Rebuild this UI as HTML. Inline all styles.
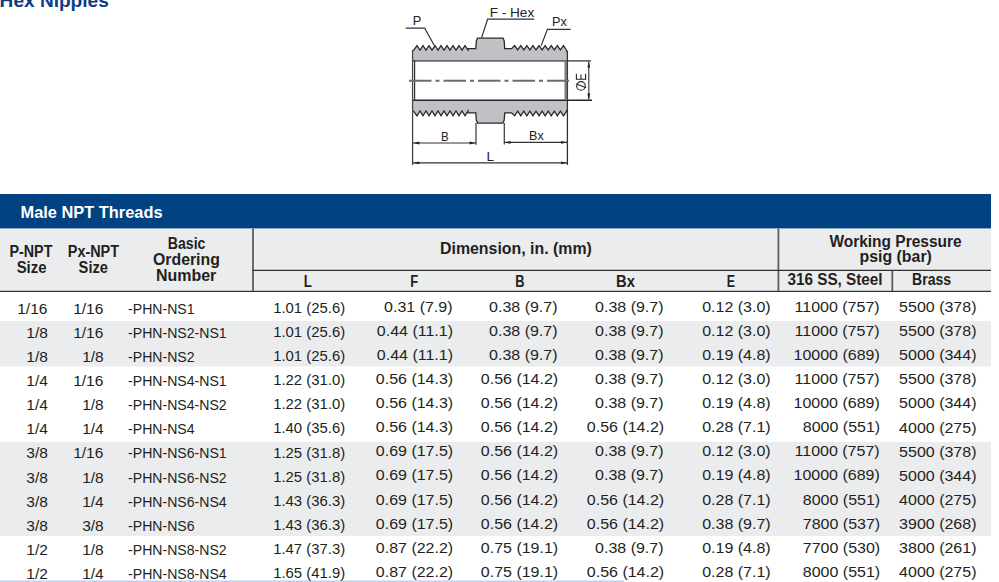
<!DOCTYPE html>
<html><head><meta charset="utf-8"><title>Hex Nipples</title>
<style>
html,body{margin:0;padding:0;background:#fff;width:999px;height:582px;overflow:hidden}
svg{display:block;font-family:"Liberation Sans",sans-serif}
</style></head><body>
<svg width="999" height="582" viewBox="0 0 999 582">
<text x="-0.40" y="7.0" font-size="19" font-weight="700" fill="#0b3c85" textLength="109.17" lengthAdjust="spacingAndGlyphs">Hex Nipples</text>
<path d="M413.20,61.00 L413.20,50.80 L417.00,45.60 L420.00,50.00 L423.00,45.60 L426.00,50.00 L429.00,45.60 L432.00,50.00 L435.00,45.60 L438.00,50.00 L441.00,45.60 L444.00,50.00 L447.00,45.60 L450.00,50.00 L453.00,45.60 L456.00,50.00 L459.00,45.60 L462.00,50.00 L465.00,45.60 L468.00,50.00 L468.20,48.70 L475.80,48.70 L476.30,41.00 L477.60,38.20 L503.00,38.20 L504.20,41.00 L504.70,48.60 L511.60,48.60 L514.65,45.60 L517.70,49.80 L520.75,45.60 L523.80,49.80 L526.85,45.60 L529.90,49.80 L532.95,45.60 L536.00,49.80 L539.05,45.60 L542.10,49.80 L545.15,45.60 L548.20,49.80 L551.25,45.60 L554.30,49.80 L557.35,45.60 L560.40,49.80 L563.45,45.60 L566.60,50.20 L567.20,52.00 L567.20,61.00 Z" fill="#c1c1c5" stroke="none" stroke-width="1"/>
<path d="M413.20,50.80 L417.00,45.60 L420.00,50.00 L423.00,45.60 L426.00,50.00 L429.00,45.60 L432.00,50.00 L435.00,45.60 L438.00,50.00 L441.00,45.60 L444.00,50.00 L447.00,45.60 L450.00,50.00 L453.00,45.60 L456.00,50.00 L459.00,45.60 L462.00,50.00 L465.00,45.60 L468.00,50.00 L468.20,48.70 L475.80,48.70 L476.30,41.00 L477.60,38.20 L503.00,38.20 L504.20,41.00 L504.70,48.60 L511.60,48.60 L514.65,45.60 L517.70,49.80 L520.75,45.60 L523.80,49.80 L526.85,45.60 L529.90,49.80 L532.95,45.60 L536.00,49.80 L539.05,45.60 L542.10,49.80 L545.15,45.60 L548.20,49.80 L551.25,45.60 L554.30,49.80 L557.35,45.60 L560.40,49.80 L563.45,45.60 L566.60,50.20 L567.20,52.00" fill="none" stroke="#2a2a2a" stroke-width="1.3" stroke-linejoin="miter"/>
<path d="M413.20,100.20 L413.20,110.60 L417.00,115.80 L420.00,111.00 L423.00,115.80 L426.00,111.00 L429.00,115.80 L432.00,111.00 L435.00,115.80 L438.00,111.00 L441.00,115.80 L444.00,111.00 L447.00,115.80 L450.00,111.00 L453.00,115.80 L456.00,111.00 L459.00,115.80 L462.00,111.00 L465.00,115.80 L468.00,111.00 L468.00,112.90 L475.80,112.90 L476.30,120.00 L477.60,123.10 L503.00,123.10 L504.20,120.00 L504.70,112.90 L511.60,112.90 L514.65,115.80 L517.70,111.20 L520.75,115.80 L523.80,111.20 L526.85,115.80 L529.90,111.20 L532.95,115.80 L536.00,111.20 L539.05,115.80 L542.10,111.20 L545.15,115.80 L548.20,111.20 L551.25,115.80 L554.30,111.20 L557.35,115.80 L560.40,111.20 L563.45,115.80 L566.60,111.20 L567.20,109.50 L567.20,100.20 Z" fill="#c1c1c5" stroke="none" stroke-width="1"/>
<path d="M413.20,110.60 L417.00,115.80 L420.00,111.00 L423.00,115.80 L426.00,111.00 L429.00,115.80 L432.00,111.00 L435.00,115.80 L438.00,111.00 L441.00,115.80 L444.00,111.00 L447.00,115.80 L450.00,111.00 L453.00,115.80 L456.00,111.00 L459.00,115.80 L462.00,111.00 L465.00,115.80 L468.00,111.00 L468.00,112.90 L475.80,112.90 L476.30,120.00 L477.60,123.10 L503.00,123.10 L504.20,120.00 L504.70,112.90 L511.60,112.90 L514.65,115.80 L517.70,111.20 L520.75,115.80 L523.80,111.20 L526.85,115.80 L529.90,111.20 L532.95,115.80 L536.00,111.20 L539.05,115.80 L542.10,111.20 L545.15,115.80 L548.20,111.20 L551.25,115.80 L554.30,111.20 L557.35,115.80 L560.40,111.20 L563.45,115.80 L566.60,111.20 L567.20,109.50" fill="none" stroke="#2a2a2a" stroke-width="1.3"/>
<line x1="413" y1="60.8" x2="591" y2="60.8" stroke="#6a6a6a" stroke-width="1.8"/>
<line x1="413" y1="100.3" x2="592" y2="100.3" stroke="#262626" stroke-width="1.5"/>
<line x1="412.6" y1="50" x2="412.6" y2="165" stroke="#444" stroke-width="1.3"/>
<line x1="414.6" y1="60" x2="414.6" y2="101" stroke="#333" stroke-width="1.2"/>
<line x1="567.4" y1="51" x2="567.4" y2="165" stroke="#333" stroke-width="1.3"/>
<line x1="565.8" y1="61" x2="565.8" y2="100" stroke="#7a7a7a" stroke-width="2.6"/>
<path d="M409,80.8 H569" fill="none" stroke="#6e6e6e" stroke-width="1.9" stroke-dasharray="22.5 4 4 4"/>
<line x1="588.8" y1="61.5" x2="588.8" y2="99.5" stroke="#333" stroke-width="1.1"/>
<path d="M588.8,61.6 L587.4,67.6 L590.1999999999999,67.6 Z" fill="#222" stroke="none" stroke-width="1"/>
<path d="M588.8,99.4 L587.4,93.4 L590.1999999999999,93.4 Z" fill="#222" stroke="none" stroke-width="1"/>
<circle cx="581" cy="85.9" r="4.3" fill="none" stroke="#222" stroke-width="1.1"/>
<line x1="576.3" y1="84.0" x2="586.2" y2="87.8" stroke="#222" stroke-width="1.1"/>
<path d="M576.4,73.8 V79.2 H585.6 V73.8 M581,79.2 V74.4" fill="none" stroke="#222" stroke-width="1.1"/>
<line x1="476.0" y1="123" x2="476.0" y2="144.8" stroke="#444" stroke-width="1.3"/>
<line x1="413" y1="143.0" x2="476.0" y2="143.0" stroke="#333" stroke-width="1.2"/>
<path d="M413.3,143.0 L419.3,141.6 L419.3,144.4 Z" fill="#222" stroke="none" stroke-width="1"/>
<path d="M475.6,143.0 L469.6,141.6 L469.6,144.4 Z" fill="#222" stroke="none" stroke-width="1"/>
<line x1="504.3" y1="123" x2="504.3" y2="144.5" stroke="#444" stroke-width="1.3"/>
<line x1="504.3" y1="142.4" x2="567.3" y2="142.4" stroke="#333" stroke-width="1.2"/>
<path d="M504.6,142.4 L510.6,141.0 L510.6,143.8 Z" fill="#222" stroke="none" stroke-width="1"/>
<path d="M567.0,142.4 L561.0,141.0 L561.0,143.8 Z" fill="#222" stroke="none" stroke-width="1"/>
<line x1="413" y1="162.9" x2="567.3" y2="162.9" stroke="#333" stroke-width="1.2"/>
<path d="M413.3,162.9 L419.3,161.5 L419.3,164.3 Z" fill="#222" stroke="none" stroke-width="1"/>
<path d="M567.0,162.9 L561.0,161.5 L561.0,164.3 Z" fill="#222" stroke="none" stroke-width="1"/>
<text x="441.11" y="140.6" font-size="13" fill="#222" textLength="7.68" lengthAdjust="spacingAndGlyphs">B</text>
<text x="529.04" y="139.5" font-size="13" fill="#222" textLength="14.63" lengthAdjust="spacingAndGlyphs">Bx</text>
<text x="486.57" y="161.3" font-size="13" fill="#222" textLength="7.48" lengthAdjust="spacingAndGlyphs">L</text>
<path d="M405.8,28.2 H424.7 L434.3,45.5" fill="none" stroke="#333" stroke-width="1.2"/>
<text x="412.71" y="25.4" font-size="13" fill="#222" textLength="8.55" lengthAdjust="spacingAndGlyphs">P</text>
<path d="M481.6,37.6 L487.6,19.2 H534.3" fill="none" stroke="#333" stroke-width="1.2"/>
<text x="489.65" y="16.8" font-size="13" fill="#222" textLength="44.60" lengthAdjust="spacingAndGlyphs">F - Hex</text>
<path d="M541.2,45.6 L547.4,29.3 H570.7" fill="none" stroke="#333" stroke-width="1.2"/>
<text x="551.92" y="26.1" font-size="13" fill="#222" textLength="14.85" lengthAdjust="spacingAndGlyphs">Px</text>
<rect x="0" y="194" width="991" height="34.8" fill="#014283"/>
<text x="20.54" y="217.8" font-size="17" font-weight="700" fill="#ffffff" textLength="142.03" lengthAdjust="spacingAndGlyphs">Male NPT Threads</text>
<rect x="0" y="228.5" width="991" height="62" fill="#ebecee"/>
<line x1="0" y1="291.3" x2="991" y2="291.3" stroke="#303030" stroke-width="1.3"/>
<line x1="253.0" y1="228.5" x2="253.0" y2="291" stroke="#5c5c5c" stroke-width="1.8"/>
<line x1="778.4" y1="228.5" x2="778.4" y2="291" stroke="#5c5c5c" stroke-width="1.8"/>
<line x1="892.3" y1="270.3" x2="892.3" y2="291" stroke="#5c5c5c" stroke-width="1.8"/>
<line x1="252.6" y1="270.3" x2="991" y2="270.3" stroke="#303030" stroke-width="1.2"/>
<text x="9.51" y="257.2" font-size="16" font-weight="700" fill="#231f20" textLength="42.89" lengthAdjust="spacingAndGlyphs">P-NPT</text>
<text x="16.67" y="273.4" font-size="16" font-weight="700" fill="#231f20" textLength="29.74" lengthAdjust="spacingAndGlyphs">Size</text>
<text x="67.80" y="257.2" font-size="16" font-weight="700" fill="#231f20" textLength="51.22" lengthAdjust="spacingAndGlyphs">Px-NPT</text>
<text x="78.58" y="273.4" font-size="16" font-weight="700" fill="#231f20" textLength="29.43" lengthAdjust="spacingAndGlyphs">Size</text>
<text x="167.82" y="249" font-size="16" font-weight="700" fill="#231f20" textLength="37.60" lengthAdjust="spacingAndGlyphs">Basic</text>
<text x="153.01" y="265.4" font-size="16" font-weight="700" fill="#231f20" textLength="66.85" lengthAdjust="spacingAndGlyphs">Ordering</text>
<text x="156.00" y="281.4" font-size="16" font-weight="700" fill="#231f20" textLength="60.25" lengthAdjust="spacingAndGlyphs">Number</text>
<text x="440.01" y="254" font-size="16" font-weight="700" fill="#231f20" textLength="151.89" lengthAdjust="spacingAndGlyphs">Dimension, in. (mm)</text>
<text x="829.40" y="247" font-size="16" font-weight="700" fill="#231f20" textLength="132.22" lengthAdjust="spacingAndGlyphs">Working Pressure</text>
<text x="859.51" y="262" font-size="16" font-weight="700" fill="#231f20" textLength="72.38" lengthAdjust="spacingAndGlyphs">psig (bar)</text>
<text x="303.67" y="287.2" font-size="16" font-weight="700" fill="#231f20" textLength="8.15" lengthAdjust="spacingAndGlyphs">L</text>
<text x="410.19" y="287.2" font-size="16" font-weight="700" fill="#231f20" textLength="7.95" lengthAdjust="spacingAndGlyphs">F</text>
<text x="515.20" y="287.2" font-size="16" font-weight="700" fill="#231f20" textLength="9.25" lengthAdjust="spacingAndGlyphs">B</text>
<text x="616.08" y="287.2" font-size="16" font-weight="700" fill="#231f20" textLength="18.84" lengthAdjust="spacingAndGlyphs">Bx</text>
<text x="726.72" y="287.2" font-size="16" font-weight="700" fill="#231f20" textLength="8.30" lengthAdjust="spacingAndGlyphs">E</text>
<text x="787.50" y="284.8" font-size="16" font-weight="700" fill="#231f20" textLength="95.10" lengthAdjust="spacingAndGlyphs">316 SS, Steel</text>
<text x="912.12" y="284.8" font-size="16" font-weight="700" fill="#231f20" textLength="39.00" lengthAdjust="spacingAndGlyphs">Brass</text>
<rect x="0" y="321" width="991" height="45.5" fill="#ebecee"/>
<rect x="0" y="442" width="991" height="94" fill="#ebecee"/>
<rect x="0" y="580.4" width="624" height="1.6" fill="#c6d3ef"/>
<text x="17.26" y="313.8" font-size="15.5" fill="#231f20">1/16</text>
<text x="73.16" y="313.8" font-size="15.5" fill="#231f20">1/16</text>
<text x="128.09" y="313.8" font-size="15.5" fill="#231f20" textLength="66.50" lengthAdjust="spacingAndGlyphs">-PHN-NS1</text>
<text x="273.16" y="312.9" font-size="15.5" fill="#231f20" textLength="71.97" lengthAdjust="spacingAndGlyphs">1.01 (25.6)</text>
<text x="384.07" y="311.7" font-size="15.5" fill="#231f20" textLength="68.50" lengthAdjust="spacingAndGlyphs">0.31 (7.9)</text>
<text x="489.07" y="311.7" font-size="15.5" fill="#231f20" textLength="68.50" lengthAdjust="spacingAndGlyphs">0.38 (9.7)</text>
<text x="595.07" y="311.7" font-size="15.5" fill="#231f20" textLength="68.50" lengthAdjust="spacingAndGlyphs">0.38 (9.7)</text>
<text x="702.17" y="311.7" font-size="15.5" fill="#231f20" textLength="68.50" lengthAdjust="spacingAndGlyphs">0.12 (3.0)</text>
<text x="794.55" y="311.7" font-size="15.5" fill="#231f20" textLength="85.11" lengthAdjust="spacingAndGlyphs">11000 (757)</text>
<text x="899.11" y="312.0" font-size="15.5" fill="#231f20" textLength="77.40" lengthAdjust="spacingAndGlyphs">5500 (378)</text>
<text x="26.27" y="337.9" font-size="15.5" fill="#231f20">1/8</text>
<text x="73.16" y="337.9" font-size="15.5" fill="#231f20">1/16</text>
<text x="128.09" y="337.9" font-size="15.5" fill="#231f20" textLength="98.57" lengthAdjust="spacingAndGlyphs">-PHN-NS2-NS1</text>
<text x="273.16" y="337.0" font-size="15.5" fill="#231f20" textLength="71.97" lengthAdjust="spacingAndGlyphs">1.01 (25.6)</text>
<text x="376.85" y="335.8" font-size="15.5" fill="#231f20" textLength="76.21" lengthAdjust="spacingAndGlyphs">0.44 (11.1)</text>
<text x="489.07" y="335.8" font-size="15.5" fill="#231f20" textLength="68.50" lengthAdjust="spacingAndGlyphs">0.38 (9.7)</text>
<text x="595.07" y="335.8" font-size="15.5" fill="#231f20" textLength="68.50" lengthAdjust="spacingAndGlyphs">0.38 (9.7)</text>
<text x="702.17" y="335.8" font-size="15.5" fill="#231f20" textLength="68.50" lengthAdjust="spacingAndGlyphs">0.12 (3.0)</text>
<text x="794.55" y="335.8" font-size="15.5" fill="#231f20" textLength="85.11" lengthAdjust="spacingAndGlyphs">11000 (757)</text>
<text x="899.11" y="336.1" font-size="15.5" fill="#231f20" textLength="77.40" lengthAdjust="spacingAndGlyphs">5500 (378)</text>
<text x="26.27" y="362.0" font-size="15.5" fill="#231f20">1/8</text>
<text x="82.17" y="362.0" font-size="15.5" fill="#231f20">1/8</text>
<text x="128.09" y="362.0" font-size="15.5" fill="#231f20" textLength="66.50" lengthAdjust="spacingAndGlyphs">-PHN-NS2</text>
<text x="273.16" y="361.1" font-size="15.5" fill="#231f20" textLength="71.97" lengthAdjust="spacingAndGlyphs">1.01 (25.6)</text>
<text x="376.85" y="359.9" font-size="15.5" fill="#231f20" textLength="76.21" lengthAdjust="spacingAndGlyphs">0.44 (11.1)</text>
<text x="489.07" y="359.9" font-size="15.5" fill="#231f20" textLength="68.50" lengthAdjust="spacingAndGlyphs">0.38 (9.7)</text>
<text x="595.07" y="359.9" font-size="15.5" fill="#231f20" textLength="68.50" lengthAdjust="spacingAndGlyphs">0.38 (9.7)</text>
<text x="702.17" y="359.9" font-size="15.5" fill="#231f20" textLength="68.50" lengthAdjust="spacingAndGlyphs">0.19 (4.8)</text>
<text x="793.52" y="359.9" font-size="15.5" fill="#231f20" textLength="86.29" lengthAdjust="spacingAndGlyphs">10000 (689)</text>
<text x="899.11" y="360.2" font-size="15.5" fill="#231f20" textLength="77.40" lengthAdjust="spacingAndGlyphs">5000 (344)</text>
<text x="26.27" y="386.1" font-size="15.5" fill="#231f20">1/4</text>
<text x="73.16" y="386.1" font-size="15.5" fill="#231f20">1/16</text>
<text x="128.09" y="386.1" font-size="15.5" fill="#231f20" textLength="98.57" lengthAdjust="spacingAndGlyphs">-PHN-NS4-NS1</text>
<text x="273.16" y="385.2" font-size="15.5" fill="#231f20" textLength="71.97" lengthAdjust="spacingAndGlyphs">1.22 (31.0)</text>
<text x="375.81" y="384.0" font-size="15.5" fill="#231f20" textLength="77.39" lengthAdjust="spacingAndGlyphs">0.56 (14.3)</text>
<text x="480.81" y="384.0" font-size="15.5" fill="#231f20" textLength="77.39" lengthAdjust="spacingAndGlyphs">0.56 (14.2)</text>
<text x="595.07" y="384.0" font-size="15.5" fill="#231f20" textLength="68.50" lengthAdjust="spacingAndGlyphs">0.38 (9.7)</text>
<text x="702.17" y="384.0" font-size="15.5" fill="#231f20" textLength="68.50" lengthAdjust="spacingAndGlyphs">0.12 (3.0)</text>
<text x="794.55" y="384.0" font-size="15.5" fill="#231f20" textLength="85.11" lengthAdjust="spacingAndGlyphs">11000 (757)</text>
<text x="899.11" y="384.3" font-size="15.5" fill="#231f20" textLength="77.40" lengthAdjust="spacingAndGlyphs">5500 (378)</text>
<text x="26.27" y="410.2" font-size="15.5" fill="#231f20">1/4</text>
<text x="82.17" y="410.2" font-size="15.5" fill="#231f20">1/8</text>
<text x="128.09" y="410.2" font-size="15.5" fill="#231f20" textLength="98.57" lengthAdjust="spacingAndGlyphs">-PHN-NS4-NS2</text>
<text x="273.16" y="409.3" font-size="15.5" fill="#231f20" textLength="71.97" lengthAdjust="spacingAndGlyphs">1.22 (31.0)</text>
<text x="375.81" y="408.1" font-size="15.5" fill="#231f20" textLength="77.39" lengthAdjust="spacingAndGlyphs">0.56 (14.3)</text>
<text x="480.81" y="408.1" font-size="15.5" fill="#231f20" textLength="77.39" lengthAdjust="spacingAndGlyphs">0.56 (14.2)</text>
<text x="595.07" y="408.1" font-size="15.5" fill="#231f20" textLength="68.50" lengthAdjust="spacingAndGlyphs">0.38 (9.7)</text>
<text x="702.17" y="408.1" font-size="15.5" fill="#231f20" textLength="68.50" lengthAdjust="spacingAndGlyphs">0.19 (4.8)</text>
<text x="793.52" y="408.1" font-size="15.5" fill="#231f20" textLength="86.29" lengthAdjust="spacingAndGlyphs">10000 (689)</text>
<text x="899.11" y="408.4" font-size="15.5" fill="#231f20" textLength="77.40" lengthAdjust="spacingAndGlyphs">5000 (344)</text>
<text x="26.27" y="434.3" font-size="15.5" fill="#231f20">1/4</text>
<text x="82.17" y="434.3" font-size="15.5" fill="#231f20">1/4</text>
<text x="128.09" y="434.3" font-size="15.5" fill="#231f20" textLength="66.50" lengthAdjust="spacingAndGlyphs">-PHN-NS4</text>
<text x="273.16" y="433.4" font-size="15.5" fill="#231f20" textLength="71.97" lengthAdjust="spacingAndGlyphs">1.40 (35.6)</text>
<text x="375.81" y="432.2" font-size="15.5" fill="#231f20" textLength="77.39" lengthAdjust="spacingAndGlyphs">0.56 (14.3)</text>
<text x="480.81" y="432.2" font-size="15.5" fill="#231f20" textLength="77.39" lengthAdjust="spacingAndGlyphs">0.56 (14.2)</text>
<text x="586.81" y="432.2" font-size="15.5" fill="#231f20" textLength="77.39" lengthAdjust="spacingAndGlyphs">0.56 (14.2)</text>
<text x="702.17" y="432.2" font-size="15.5" fill="#231f20" textLength="68.50" lengthAdjust="spacingAndGlyphs">0.28 (7.1)</text>
<text x="802.81" y="432.2" font-size="15.5" fill="#231f20" textLength="77.40" lengthAdjust="spacingAndGlyphs">8000 (551)</text>
<text x="899.11" y="432.5" font-size="15.5" fill="#231f20" textLength="77.40" lengthAdjust="spacingAndGlyphs">4000 (275)</text>
<text x="26.27" y="458.4" font-size="15.5" fill="#231f20">3/8</text>
<text x="73.16" y="458.4" font-size="15.5" fill="#231f20">1/16</text>
<text x="128.09" y="458.4" font-size="15.5" fill="#231f20" textLength="98.57" lengthAdjust="spacingAndGlyphs">-PHN-NS6-NS1</text>
<text x="273.16" y="457.5" font-size="15.5" fill="#231f20" textLength="71.97" lengthAdjust="spacingAndGlyphs">1.25 (31.8)</text>
<text x="375.81" y="456.3" font-size="15.5" fill="#231f20" textLength="77.39" lengthAdjust="spacingAndGlyphs">0.69 (17.5)</text>
<text x="480.81" y="456.3" font-size="15.5" fill="#231f20" textLength="77.39" lengthAdjust="spacingAndGlyphs">0.56 (14.2)</text>
<text x="595.07" y="456.3" font-size="15.5" fill="#231f20" textLength="68.50" lengthAdjust="spacingAndGlyphs">0.38 (9.7)</text>
<text x="702.17" y="456.3" font-size="15.5" fill="#231f20" textLength="68.50" lengthAdjust="spacingAndGlyphs">0.12 (3.0)</text>
<text x="794.55" y="456.3" font-size="15.5" fill="#231f20" textLength="85.11" lengthAdjust="spacingAndGlyphs">11000 (757)</text>
<text x="899.11" y="456.6" font-size="15.5" fill="#231f20" textLength="77.40" lengthAdjust="spacingAndGlyphs">5500 (378)</text>
<text x="26.27" y="482.5" font-size="15.5" fill="#231f20">3/8</text>
<text x="82.17" y="482.5" font-size="15.5" fill="#231f20">1/8</text>
<text x="128.09" y="482.5" font-size="15.5" fill="#231f20" textLength="98.57" lengthAdjust="spacingAndGlyphs">-PHN-NS6-NS2</text>
<text x="273.16" y="481.6" font-size="15.5" fill="#231f20" textLength="71.97" lengthAdjust="spacingAndGlyphs">1.25 (31.8)</text>
<text x="375.81" y="480.4" font-size="15.5" fill="#231f20" textLength="77.39" lengthAdjust="spacingAndGlyphs">0.69 (17.5)</text>
<text x="480.81" y="480.4" font-size="15.5" fill="#231f20" textLength="77.39" lengthAdjust="spacingAndGlyphs">0.56 (14.2)</text>
<text x="595.07" y="480.4" font-size="15.5" fill="#231f20" textLength="68.50" lengthAdjust="spacingAndGlyphs">0.38 (9.7)</text>
<text x="702.17" y="480.4" font-size="15.5" fill="#231f20" textLength="68.50" lengthAdjust="spacingAndGlyphs">0.19 (4.8)</text>
<text x="793.52" y="480.4" font-size="15.5" fill="#231f20" textLength="86.29" lengthAdjust="spacingAndGlyphs">10000 (689)</text>
<text x="899.11" y="480.7" font-size="15.5" fill="#231f20" textLength="77.40" lengthAdjust="spacingAndGlyphs">5000 (344)</text>
<text x="26.27" y="506.6" font-size="15.5" fill="#231f20">3/8</text>
<text x="82.17" y="506.6" font-size="15.5" fill="#231f20">1/4</text>
<text x="128.09" y="506.6" font-size="15.5" fill="#231f20" textLength="98.57" lengthAdjust="spacingAndGlyphs">-PHN-NS6-NS4</text>
<text x="273.16" y="505.7" font-size="15.5" fill="#231f20" textLength="71.97" lengthAdjust="spacingAndGlyphs">1.43 (36.3)</text>
<text x="375.81" y="504.5" font-size="15.5" fill="#231f20" textLength="77.39" lengthAdjust="spacingAndGlyphs">0.69 (17.5)</text>
<text x="480.81" y="504.5" font-size="15.5" fill="#231f20" textLength="77.39" lengthAdjust="spacingAndGlyphs">0.56 (14.2)</text>
<text x="586.81" y="504.5" font-size="15.5" fill="#231f20" textLength="77.39" lengthAdjust="spacingAndGlyphs">0.56 (14.2)</text>
<text x="702.17" y="504.5" font-size="15.5" fill="#231f20" textLength="68.50" lengthAdjust="spacingAndGlyphs">0.28 (7.1)</text>
<text x="802.81" y="504.5" font-size="15.5" fill="#231f20" textLength="77.40" lengthAdjust="spacingAndGlyphs">8000 (551)</text>
<text x="899.11" y="504.8" font-size="15.5" fill="#231f20" textLength="77.40" lengthAdjust="spacingAndGlyphs">4000 (275)</text>
<text x="26.27" y="530.7" font-size="15.5" fill="#231f20">3/8</text>
<text x="82.17" y="530.7" font-size="15.5" fill="#231f20">3/8</text>
<text x="128.09" y="530.7" font-size="15.5" fill="#231f20" textLength="66.50" lengthAdjust="spacingAndGlyphs">-PHN-NS6</text>
<text x="273.16" y="529.8" font-size="15.5" fill="#231f20" textLength="71.97" lengthAdjust="spacingAndGlyphs">1.43 (36.3)</text>
<text x="375.81" y="528.6" font-size="15.5" fill="#231f20" textLength="77.39" lengthAdjust="spacingAndGlyphs">0.69 (17.5)</text>
<text x="480.81" y="528.6" font-size="15.5" fill="#231f20" textLength="77.39" lengthAdjust="spacingAndGlyphs">0.56 (14.2)</text>
<text x="586.81" y="528.6" font-size="15.5" fill="#231f20" textLength="77.39" lengthAdjust="spacingAndGlyphs">0.56 (14.2)</text>
<text x="702.17" y="528.6" font-size="15.5" fill="#231f20" textLength="68.50" lengthAdjust="spacingAndGlyphs">0.38 (9.7)</text>
<text x="802.81" y="528.6" font-size="15.5" fill="#231f20" textLength="77.40" lengthAdjust="spacingAndGlyphs">7800 (537)</text>
<text x="899.11" y="528.9" font-size="15.5" fill="#231f20" textLength="77.40" lengthAdjust="spacingAndGlyphs">3900 (268)</text>
<text x="26.27" y="554.8" font-size="15.5" fill="#231f20">1/2</text>
<text x="82.17" y="554.8" font-size="15.5" fill="#231f20">1/8</text>
<text x="128.09" y="554.8" font-size="15.5" fill="#231f20" textLength="98.57" lengthAdjust="spacingAndGlyphs">-PHN-NS8-NS2</text>
<text x="273.16" y="553.9" font-size="15.5" fill="#231f20" textLength="71.97" lengthAdjust="spacingAndGlyphs">1.47 (37.3)</text>
<text x="375.81" y="552.7" font-size="15.5" fill="#231f20" textLength="77.39" lengthAdjust="spacingAndGlyphs">0.87 (22.2)</text>
<text x="480.81" y="552.7" font-size="15.5" fill="#231f20" textLength="77.39" lengthAdjust="spacingAndGlyphs">0.75 (19.1)</text>
<text x="595.07" y="552.7" font-size="15.5" fill="#231f20" textLength="68.50" lengthAdjust="spacingAndGlyphs">0.38 (9.7)</text>
<text x="702.17" y="552.7" font-size="15.5" fill="#231f20" textLength="68.50" lengthAdjust="spacingAndGlyphs">0.19 (4.8)</text>
<text x="802.81" y="552.7" font-size="15.5" fill="#231f20" textLength="77.40" lengthAdjust="spacingAndGlyphs">7700 (530)</text>
<text x="899.11" y="553.0" font-size="15.5" fill="#231f20" textLength="77.40" lengthAdjust="spacingAndGlyphs">3800 (261)</text>
<text x="26.27" y="578.9" font-size="15.5" fill="#231f20">1/2</text>
<text x="82.17" y="578.9" font-size="15.5" fill="#231f20">1/4</text>
<text x="128.09" y="578.9" font-size="15.5" fill="#231f20" textLength="98.57" lengthAdjust="spacingAndGlyphs">-PHN-NS8-NS4</text>
<text x="273.16" y="578.0" font-size="15.5" fill="#231f20" textLength="71.97" lengthAdjust="spacingAndGlyphs">1.65 (41.9)</text>
<text x="375.81" y="576.8" font-size="15.5" fill="#231f20" textLength="77.39" lengthAdjust="spacingAndGlyphs">0.87 (22.2)</text>
<text x="480.81" y="576.8" font-size="15.5" fill="#231f20" textLength="77.39" lengthAdjust="spacingAndGlyphs">0.75 (19.1)</text>
<text x="586.81" y="576.8" font-size="15.5" fill="#231f20" textLength="77.39" lengthAdjust="spacingAndGlyphs">0.56 (14.2)</text>
<text x="702.17" y="576.8" font-size="15.5" fill="#231f20" textLength="68.50" lengthAdjust="spacingAndGlyphs">0.28 (7.1)</text>
<text x="802.81" y="576.8" font-size="15.5" fill="#231f20" textLength="77.40" lengthAdjust="spacingAndGlyphs">8000 (551)</text>
<text x="899.11" y="577.1" font-size="15.5" fill="#231f20" textLength="77.40" lengthAdjust="spacingAndGlyphs">4000 (275)</text>
</svg>
</body></html>
